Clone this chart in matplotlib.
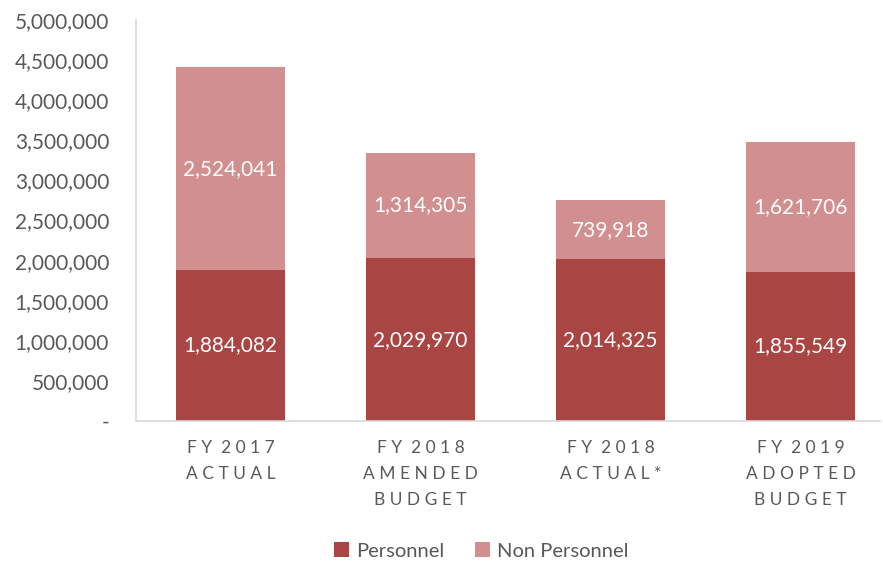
import matplotlib.pyplot as plt
from matplotlib.ticker import FuncFormatter

plt.rcParams['font.family'] = ['Lato', 'DejaVu Sans']

categories = ["FY 2017\nACTUAL", "FY 2018\nAMENDED\nBUDGET", "FY 2018\nACTUAL*", "FY 2019\nADOPTED\nBUDGET"]
personnel = [1884082, 2029970, 2014325, 1855549]
non_personnel = [2524041, 1314305, 739918, 1621706]

dark = "#A94543"
light = "#D18F8F"
grey = "#595959"


def spaced(s):
    # widen letter spacing on each line
    out = []
    for line in s.split("\n"):
        out.append("  ".join(" ".join(w) for w in line.split(" ")))
    return "\n".join(out)


fig = plt.figure(figsize=(8.83, 5.64), dpi=100)
ax = fig.add_axes([135.5 / 883, 1 - 421 / 564, (880 - 135.5) / 883, (421 - 20) / 564])

x = range(len(categories))
b1 = ax.bar(x, personnel, width=0.574, color=dark, label="Personnel")
b2 = ax.bar(x, non_personnel, width=0.574, bottom=personnel, color=light, label="Non Personnel")

for i in x:
    ax.text(i, personnel[i] / 2, f"{personnel[i]:,}", ha="center", va="center",
            color="white", fontsize=15)
    ax.text(i, personnel[i] + non_personnel[i] / 2, f"{non_personnel[i]:,}", ha="center",
            va="center", color="white", fontsize=15)

ax.set_xlim(-0.5, -0.5 + (880 - 135.5) / 190)
ax.set_ylim(0, 5000000)
ax.set_yticks(range(0, 5000001, 500000))
ax.yaxis.set_major_formatter(FuncFormatter(lambda v, p: "-" if v == 0 else f"{int(v):,}"))
ax.set_xticks(list(x))
ax.set_xticklabels([spaced(c) for c in categories], linespacing=1.75)

for side in ["top", "right"]:
    ax.spines[side].set_visible(False)
for side in ["left", "bottom"]:
    ax.spines[side].set_color("#D9D9D9")
    ax.spines[side].set_linewidth(1.2)
ax.tick_params(axis="y", length=0, labelsize=15, labelcolor=grey, pad=19)
ax.tick_params(axis="x", length=0, labelsize=12.5, labelcolor=grey, pad=14)

fig.legend(handles=[b1, b2], loc="center", bbox_to_anchor=(0.545, 1 - 551 / 564), ncol=2,
           frameon=False, fontsize=14.5, labelcolor=grey, handlelength=0.75, handleheight=0.75,
           handletextpad=0.35, columnspacing=1.5)

fig.savefig("out.png", dpi=100)
